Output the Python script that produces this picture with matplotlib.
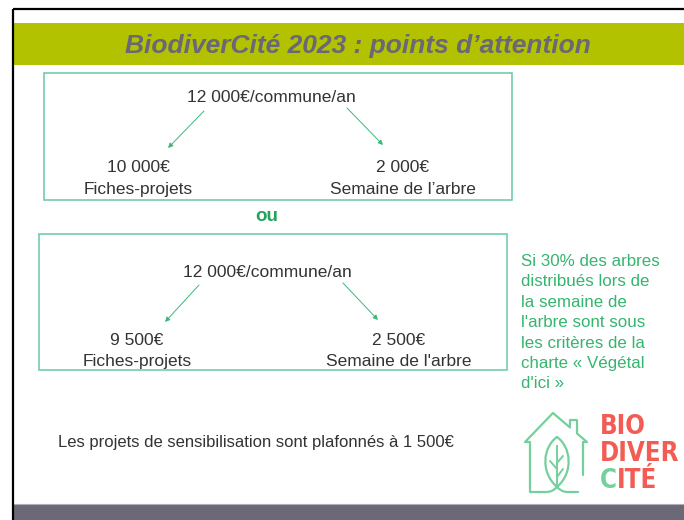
#!/usr/bin/env python3
"""Slide: BiodiverCité 2023 : points d'attention"""
import matplotlib
matplotlib.use("Agg")
import matplotlib.pyplot as plt
from matplotlib.patches import Rectangle, PathPatch
from matplotlib.path import Path

# ── content ──────────────────────────────────────────────────────────────
title = "BiodiverCité 2023 : points d’attention"
total = "12 000€/commune/an"
option_a = ["10 000€", "2 000€"]
option_b = ["9 500€", "2 500€"]
labels_a = ["Fiches-projets", "Semaine de l’arbre"]
labels_b = ["Fiches-projets", "Semaine de l'arbre"]
separator = "ou"
note_lines = [
    "Si 30% des arbres",
    "distribués lors de",
    "la semaine de",
    "l'arbre sont sous",
    "les critères de la",
    "charte « Végétal",
    "d'ici »",
]
footer = "Les projets de sensibilisation sont plafonnés à 1 500€"
logo_words = ["BIO", "DIVER", "CITÉ"]

# ── colours ──────────────────────────────────────────────────────────────
BAR_GREEN = "#b2c200"
TITLE_GREY = "#6a6777"
TEXT = "#333333"
BOX = "#66c9a0"
ARROW = "#3cb878"
NOTE_GREEN = "#35b56f"
OU_GREEN = "#22a45e"
LOGO_GREEN = "#74d19c"
LOGO_RED = "#f25c54"
FOOT_GREY = "#6b6878"

plt.rcParams["font.family"] = ["Liberation Sans", "DejaVu Sans"]

fig = plt.figure(figsize=(6.84, 5.20), dpi=100)
ax = fig.add_axes([0, 0, 1, 1])
ax.set_xlim(0, 684)
ax.set_ylim(520, 0)
ax.axis("off")

# frame, title bar, footer bar
ax.add_patch(Rectangle((14, 23), 670, 42, color=BAR_GREEN, lw=0))
ax.add_patch(Rectangle((14, 504), 670, 16, color=FOOT_GREY, lw=0))
ax.plot([14, 684], [504, 504], color="#b0afb8", lw=0.8)
ax.plot([13, 13], [9, 520], color="black", lw=1.6, solid_capstyle="butt")
ax.plot([13, 684], [9, 9], color="black", lw=1.6, solid_capstyle="butt")

ax.text(358, 53, title, ha="center", va="baseline", fontsize=19,
        fontweight="bold", fontstyle="italic", color=TITLE_GREY)


def split_box(x0, y0, x1, y1, top_x, top_y, amounts, labels, lx, rx, ay, ly,
              arrows):
    ax.add_patch(Rectangle((x0, y0), x1 - x0, y1 - y0, fill=False,
                           edgecolor=BOX, lw=1.1))
    ax.text(top_x, top_y, total, ha="center", va="baseline", fontsize=12.5,
            color=TEXT)
    for cx, amt in zip((lx, rx), amounts):
        ax.text(cx, ay, amt, ha="center", va="baseline", fontsize=12.5,
                color=TEXT)
    for cx, lab in zip((lx, rx), labels):
        ax.text(cx, ly, lab, ha="center", va="baseline", fontsize=12.5,
                color=TEXT)
    for (sx, sy), (ex, ey) in arrows:
        ax.annotate("", xy=(ex, ey), xytext=(sx, sy),
                    arrowprops=dict(arrowstyle="-|>", color=ARROW, lw=0.7,
                                    mutation_scale=7, shrinkA=0, shrinkB=0))


split_box(44, 73, 512, 200, 271, 102, option_a, labels_a, 138, 403, 172, 194,
          [((204, 111), (168, 148)), ((347, 108), (383, 145))])
split_box(39, 234, 507, 370, 267, 277, option_b, labels_b, 137, 399, 345, 366,
          [((199, 285), (165, 322)), ((343, 283), (378, 320))])

ax.text(267, 221, separator, ha="center", va="baseline", fontsize=13.5,
        fontweight="bold", color=OU_GREEN)

for i, line in enumerate(note_lines):
    ax.text(521, 266 + i * 20.4, line, ha="left", va="baseline",
            fontsize=12.2, color=NOTE_GREEN)

ax.text(58, 447, footer, ha="left", va="baseline", fontsize=12, color=TEXT)

# ── logo: house + leaf ───────────────────────────────────────────────────
M, L, C = Path.MOVETO, Path.LINETO, Path.CURVE4
house = Path(
    [(557, 437), (571, 447), (574, 472), (557, 487), (553, 491), (550, 492),
     (546, 492), (530, 492), (530, 442), (525, 442), (553, 413), (570, 427.5),
     (570, 420), (577, 420), (577, 433.5), (587, 442), (583, 442), (583, 475)],
    [M, C, C, C, C, C, C, L, L, L, L, L, L, L, L, L, L, L])
leaf = Path(
    [(557, 437), (543, 447), (540, 472), (557, 487), (561, 491), (564, 492),
     (568, 492), (578, 492)],
    [M, C, C, C, C, C, C, L])
for p in (house, leaf):
    ax.add_patch(PathPatch(p, fill=False, edgecolor=LOGO_GREEN, lw=1.6,
                           capstyle="round", joinstyle="round"))
ax.plot([557, 557], [446, 485], color=LOGO_GREEN, lw=1.4)
for (sx, sy), (ex, ey) in [((557, 469), (550, 461)), ((557, 463), (563, 456)),
                           ((557, 477), (563, 469))]:
    ax.plot([sx, ex], [sy, ey], color=LOGO_GREEN, lw=1.4,
            solid_capstyle="round")

logo_font = dict(family="DejaVu Sans", fontweight="bold", stretch="condensed",
                 fontsize=18.5, va="baseline", ha="left")
ax.text(600, 434, logo_words[0], color=LOGO_RED, **logo_font)
ax.text(600, 461, logo_words[1], color=LOGO_RED, **logo_font)
c_txt = ax.text(600, 488, logo_words[2][0], color=LOGO_GREEN, **logo_font)
fig.canvas.draw()
bb = c_txt.get_window_extent(fig.canvas.get_renderer())
x_after = ax.transData.inverted().transform((bb.x1, bb.y0))[0]
ax.text(x_after, 488, logo_words[2][1:], color=LOGO_RED, **logo_font)

fig.savefig("out.png", dpi=100)
